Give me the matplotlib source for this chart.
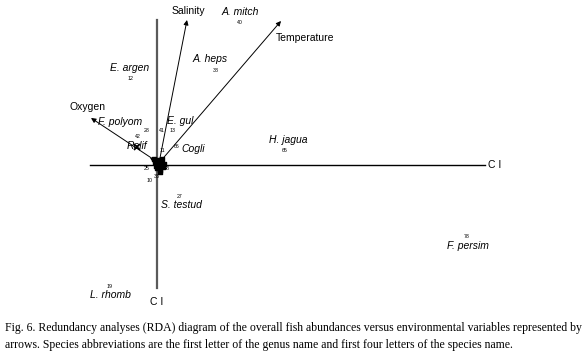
import numpy as np
import matplotlib
matplotlib.use("Agg")
import matplotlib.pyplot as plt

# RDA scores (axis units, origin at the centre of the cross)
species = ["A. mitch", "A. heps", "E. argen", "H. jagua", "S. testud",
           "L. rhomb", "F. persim", "F. polyom", "E. gul", "Relif", "Cogli"]
species_no = ["40", "38", "12", "65", "27", "19", "78", "28", "13", "", "66"]
sp_x = [0.82, 0.58, -0.28, 1.27, 0.22, -0.48, 3.09, -0.11, 0.15, -0.21, 0.19]
sp_y = [1.43, 0.94, 0.87, 0.14, -0.32, -1.21, -0.71, 0.34, 0.34, 0.18, 0.19]
# where each species name sits relative to its number (above / below / left ...)
name_x = [0.82, 0.52, -0.28, 1.30, 0.23, -0.48, 3.10, -0.38, 0.22, -0.21, 0.35]
name_y = [1.53, 1.06, 0.97, 0.25, -0.40, -1.30, -0.81, 0.43, 0.44, 0.19, 0.16]

# other site numbers crowded near the origin
other_no = ["42", "41", "11", "25", "10", "33", "58"]
other_x = [-0.20, 0.04, 0.04, -0.11, -0.08, -0.01, 0.09]
other_y = [0.29, 0.34, 0.15, -0.03, -0.15, -0.12, -0.03]

# dense cluster of overlapping scores at the origin
clus_x = [-0.03, 0.00, 0.03, 0.05, -0.01, 0.02, 0.04, 0.00, -0.04, 0.06, 0.02, -0.02]
clus_y = [0.03, 0.05, 0.02, -0.02, -0.03, -0.05, 0.06, 0.00, 0.06, 0.01, -0.07, -0.01]
# the tiny arrow-like mark at "Relif"
relif_mark = (-0.21, 0.18)

env = ["Salinity", "Temperature", "Oxygen", ""]
env_x = [0.29, 1.23, -0.67, -0.08]
env_y = [1.45, 1.44, 0.47, 0.07]
env_lab_x = [0.30, 1.47, -0.71, 0.0]
env_lab_y = [1.54, 1.27, 0.58, 0.0]

caption = ("Fig. 6. Redundancy analyses (RDA) diagram of the overall fish abundances "
           "versus environmental variables represented by\n"
           "arrows. Species abbreviations are the first letter of the genus name and "
           "first four letters of the species name.")

plt.rcParams["font.family"] = ["Liberation Sans", "DejaVu Sans"]

fig = plt.figure(figsize=(5.83, 3.57), dpi=100)
ax = fig.add_axes([0, 0, 1, 1])
ax.set_xlim(-1.58, 4.25)
ax.set_ylim(-1.92, 1.65)
ax.axis("off")

# the cross of the two axes
ax.plot([-0.68, 3.27], [0, 0], color="black", lw=1.0)
ax.plot([-0.01, -0.01], [1.45, -1.23], color="#5a5a5a", lw=1.6)
ax.text(3.37, 0, "C I", ha="center", va="center", fontsize=7.5)
ax.text(-0.01, -1.37, "C I", ha="center", va="center", fontsize=7.5)

# environmental arrows
for name, x, y, lx, ly in zip(env, env_x, env_y, env_lab_x, env_lab_y):
    ax.annotate("", xy=(x, y), xytext=(0.01, 0.02),
                arrowprops=dict(arrowstyle="-|>", color="black", lw=0.7,
                                mutation_scale=7, shrinkA=0, shrinkB=0))
    if name:
        ax.text(lx, ly, name, ha="center", va="center", fontsize=7.5)

ax.scatter(clus_x, clus_y, marker="s", s=9, color="black", zorder=3)
ax.plot(*relif_mark, marker="x", color="black", ms=4, mew=1.2)

for name, no, x, y, nx, ny in zip(species, species_no, sp_x, sp_y, name_x, name_y):
    if no:
        ax.text(x, y, no, ha="center", va="center", fontsize=3.8)
    ax.text(nx, ny, name, ha="center", va="center", fontsize=7.5, style="italic")

for no, x, y in zip(other_no, other_x, other_y):
    ax.text(x, y, no, ha="center", va="center", fontsize=3.8)

fig.text(0.009, 0.016, caption, ha="left", va="bottom", fontsize=8.5,
         family=["Liberation Serif", "DejaVu Serif"], linespacing=1.55)

fig.savefig("out.png", dpi=100)
